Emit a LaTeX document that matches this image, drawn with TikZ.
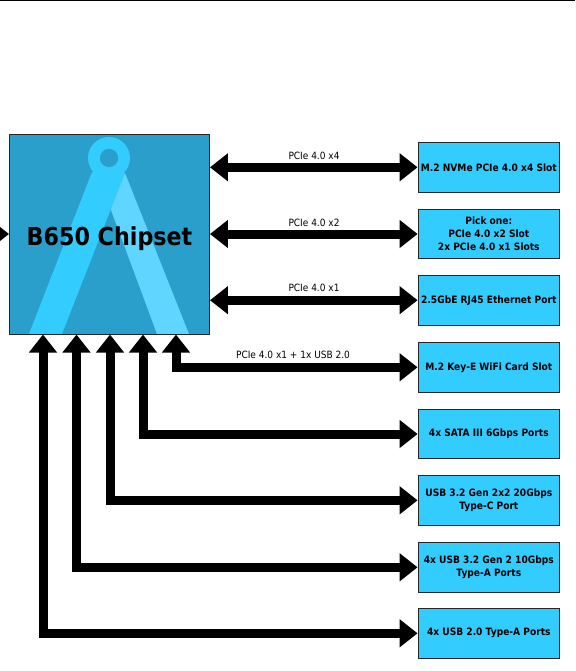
\documentclass[tikz,border=0pt]{standalone}
\usepackage{fontspec}
\setmainfont{DejaVu Sans}
\newfontfamily\narrowbold[FakeStretch=0.9]{DejaVu Sans Bold}
\newfontfamily\narrowreg[FakeStretch=0.9]{DejaVu Sans}
\usetikzlibrary{arrows.meta}
\definecolor{chipblue}{HTML}{2B9FCC}
\definecolor{boxblue}{HTML}{33CCFF}
\definecolor{lightstripe}{HTML}{5FD5FF}
\tikzset{
  portbox/.style={draw=black!85,line width=0.9pt,fill=boxblue,minimum width=141.5pt,minimum height=49.8pt,inner sep=0pt,align=center,font=\narrowbold\fontsize{10.1}{13}\selectfont,text=black},
  chipbox/.style={draw=black!85,line width=0.9pt,minimum width=200pt,minimum height=200pt,inner sep=0pt},
  link/.style={line width=9pt,black,-{Triangle[length=18pt,width=27pt]}},
  dlink/.style={line width=9pt,black,{Triangle[length=18pt,width=27pt]}-{Triangle[length=18pt,width=27pt]}},
  buslabel/.style={font=\narrowreg\fontsize{10}{12}\selectfont,inner sep=0pt,text=black}
}
\begin{document}
\begin{tikzpicture}[x=1pt,y=-1pt]
\useasboundingbox (0,0) rectangle (575,671);
\clip (0,0) rectangle (575,671);
\draw[black,line width=1.2pt] (0,0.5) -- (575,0.5);
% chipset
\node[chipbox,fill=chipblue] (chip) at (109.5,234) {};
\fill[lightstripe] (125,173) -- (189,334) -- (157,334) -- (109.5,206) -- cycle;
\fill[boxblue] (92,172) -- (125,173) -- (62,334) -- (29,334) -- cycle;
\fill[boxblue,even odd rule] (109,158) circle (21) (109,158) circle (9.3);
\node[chipbox] (chipframe) at (109.5,234) {};
\node[font=\narrowbold\fontsize{24.7}{28}\selectfont,text=black,inner sep=0pt,anchor=base] (title) at (109.5,245.5) {B650 Chipset};
% ports
\node[portbox] (b1) at (488.8,167.3) {M.2 NVMe PCIe 4.0 x4 Slot};
\node[portbox] (b2) at (488.8,234) {Pick one:\\PCIe 4.0 x2 Slot\\2x PCIe 4.0 x1 Slots};
\node[portbox] (b3) at (488.8,300.2) {2.5GbE RJ45 Ethernet Port};
\node[portbox] (b4) at (488.8,367.3) {M.2 Key-E WiFi Card Slot};
\node[portbox] (b5) at (488.8,434) {4x SATA III 6Gbps Ports};
\node[portbox] (b6) at (488.8,500.3) {USB 3.2 Gen 2x2 20Gbps\\Type-C Port};
\node[portbox] (b7) at (488.8,567.3) {4x USB 3.2 Gen 2 10Gbps\\Type-A Ports};
\node[portbox] (b8) at (488.8,633.3) {4x USB 2.0 Type-A Ports};
% free ends on the chip
\coordinate (p1) at (176,334.5);
\coordinate (p2) at (143,334.5);
\coordinate (p3) at (110,334.5);
\coordinate (p4) at (76.5,334.5);
\coordinate (p5) at (43,334.5);
\coordinate (cpu) at (-20,234);
% connectors
\draw[dlink] (chip.east |- b1.west) -- (b1.west);
\draw[dlink] (chip.east |- b2.west) -- (b2.west);
\draw[dlink] (chip.east |- b3.west) -- (b3.west);
\draw[link] (cpu) -- (chip.west);
\draw[dlink] (b4.west) -| (p1);
\draw[dlink] (b5.west) -| (p2);
\draw[dlink] (b6.west) -| (p3);
\draw[dlink] (b7.west) -| (p4);
\draw[dlink] (b8.west) -| (p5);
% labels
\node[buslabel] (l1) at (314,156) {PCIe 4.0 x4};
\node[buslabel] (l2) at (314,223) {PCIe 4.0 x2};
\node[buslabel] (l3) at (314,288) {PCIe 4.0 x1};
\node[buslabel] (l4) at (293,355) {PCIe 4.0 x1 + 1x USB 2.0};
\end{tikzpicture}
\end{document}
